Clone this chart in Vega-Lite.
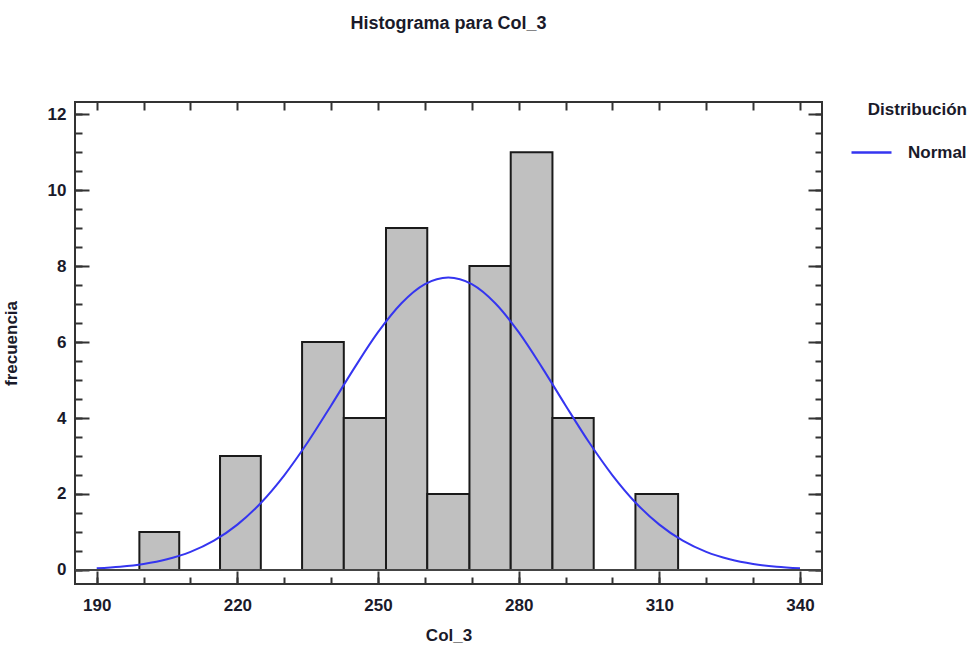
{
  "$schema": "https://vega.github.io/schema/vega-lite/v6.json",
  "width": 747,
  "height": 482,
  "autosize": "none",
  "padding": {"left": 75, "top": 102, "right": 149, "bottom": 72},
  "background": "white",
  "title": {
    "text": "Histograma para Col_3",
    "fontSize": 18,
    "font": "Liberation Sans Narrow, Liberation Sans",
    "fontWeight": "bold",
    "color": "#1a1a2a",
    "anchor": "middle",
    "offset": 68
  },
  "config": {
    "view": {"stroke": "#333333", "strokeWidth": 2},
    "axis": {
      "grid": false,
      "domain": false,
      "tickColor": "#333333",
      "tickWidth": 2,
      "labelFont": "Liberation Sans Narrow, Liberation Sans",
      "labelFontWeight": "bold",
      "labelFontSize": 17,
      "labelColor": "#1a1a2a",
      "titleFont": "Liberation Sans Narrow, Liberation Sans",
      "titleFontWeight": "bold",
      "titleFontSize": 17,
      "titleColor": "#1a1a2a"
    },
    "legend": {
      "titleFont": "Liberation Sans Narrow, Liberation Sans",
      "labelFont": "Liberation Sans Narrow, Liberation Sans"
    }
  },
  "datasets": {
    "bins": [
      {"start": 199.1, "end": 207.6, "count": 1},
      {"start": 216.3, "end": 225.0, "count": 3},
      {"start": 233.8, "end": 242.7, "count": 6},
      {"start": 242.7, "end": 251.7, "count": 4},
      {"start": 251.7, "end": 260.5, "count": 9},
      {"start": 260.5, "end": 269.5, "count": 2},
      {"start": 269.5, "end": 278.3, "count": 8},
      {"start": 278.3, "end": 287.2, "count": 11},
      {"start": 287.2, "end": 296.0, "count": 4},
      {"start": 304.9, "end": 314.0, "count": 2}
    ],
    "curve": [
      {"x": 190, "y": 0.043}, {"x": 195, "y": 0.084}, {"x": 200, "y": 0.157},
      {"x": 205, "y": 0.28}, {"x": 210, "y": 0.475}, {"x": 215, "y": 0.77},
      {"x": 220, "y": 1.193}, {"x": 225, "y": 1.764}, {"x": 230, "y": 2.492},
      {"x": 235, "y": 3.361}, {"x": 240, "y": 4.331}, {"x": 245, "y": 5.327},
      {"x": 250, "y": 6.259}, {"x": 255, "y": 7.022}, {"x": 260, "y": 7.525},
      {"x": 265, "y": 7.7}, {"x": 270, "y": 7.525}, {"x": 275, "y": 7.022},
      {"x": 280, "y": 6.259}, {"x": 285, "y": 5.327}, {"x": 290, "y": 4.331},
      {"x": 295, "y": 3.361}, {"x": 300, "y": 2.492}, {"x": 305, "y": 1.764},
      {"x": 310, "y": 1.193}, {"x": 315, "y": 0.77}, {"x": 320, "y": 0.475},
      {"x": 325, "y": 0.28}, {"x": 330, "y": 0.157}, {"x": 335, "y": 0.084},
      {"x": 340, "y": 0.043}
    ]
  },
  "resolve": {
    "scale": {"x": "shared", "y": "shared"},
    "axis": {"x": "independent", "y": "independent"}
  },
  "layer": [
    {
      "data": {"name": "bins"},
      "mark": {"type": "rect", "fill": "#c0c0c0", "stroke": "#1a1a1a", "strokeWidth": 2},
      "encoding": {
        "x": {
          "field": "start", "type": "quantitative",
          "scale": {"domain": [185.37, 344.69], "nice": false, "zero": false},
          "axis": {
            "orient": "bottom", "title": "Col_3",
            "values": [190, 220, 250, 280, 310, 340],
            "tickSize": -13, "labelPadding": 26, "titlePadding": 14,
            "format": "d"
          }
        },
        "x2": {"field": "end"},
        "y": {
          "field": "count", "type": "quantitative",
          "scale": {"domain": [-0.37, 12.32], "nice": false, "zero": false},
          "axis": {
            "orient": "left", "title": "frecuencia",
            "values": [0, 2, 4, 6, 8, 10, 12],
            "tickSize": -14, "labelPadding": 23, "titlePadding": 27,
            "format": "d"
          }
        },
        "y2": {"datum": 0}
      }
    },
    {
      "data": {"name": "curve"},
      "mark": {"type": "line", "strokeWidth": 2, "interpolate": "monotone"},
      "encoding": {
        "x": {
          "field": "x", "type": "quantitative",
          "axis": {
            "orient": "bottom", "title": null, "labels": false,
            "values": [190, 200, 210, 220, 230, 240, 250, 260, 270, 280, 290, 300, 310, 320, 330, 340],
            "tickSize": -7
          }
        },
        "y": {
          "field": "y", "type": "quantitative",
          "axis": {
            "orient": "left", "title": null, "labels": false,
            "values": [0, 0.5, 1, 1.5, 2, 2.5, 3, 3.5, 4, 4.5, 5, 5.5, 6, 6.5, 7, 7.5, 8, 8.5, 9, 9.5, 10, 10.5, 11, 11.5, 12],
            "tickSize": -7
          }
        },
        "color": {
          "datum": "Normal", "type": "nominal",
          "scale": {"range": ["#3535f0"]},
          "legend": {
            "title": "Distribución",
            "orient": "none",
            "legendX": 775,
            "legendY": 0,
            "titleAnchor": "end",
            "titleFontSize": 17,
            "titleFontWeight": "bold",
            "titleColor": "#1a1a2a",
            "titlePadding": 12,
            "labelFontSize": 17,
            "labelFontWeight": "bold",
            "labelColor": "#1a1a2a",
            "labelOffset": 15,
            "symbolType": "stroke",
            "symbolSize": 1600,
            "symbolStrokeWidth": 2.5
          }
        }
      }
    },
    {
      "data": {"name": "bins"},
      "mark": {"type": "point", "opacity": 0},
      "encoding": {
        "x": {
          "field": "start", "type": "quantitative",
          "axis": {
            "orient": "top", "title": null, "labels": false,
            "values": [190, 200, 210, 220, 230, 240, 250, 260, 270, 280, 290, 300, 310, 320, 330, 340],
            "tickSize": -8
          }
        },
        "y": {
          "field": "count", "type": "quantitative",
          "axis": {
            "orient": "right", "title": null, "labels": false,
            "values": [0, 2, 4, 6, 8, 10, 12],
            "tickSize": -14
          }
        }
      }
    },
    {
      "data": {"name": "bins"},
      "mark": {"type": "point", "opacity": 0},
      "encoding": {
        "y": {
          "field": "count", "type": "quantitative",
          "axis": {
            "orient": "right", "title": null, "labels": false,
            "values": [0, 0.5, 1, 1.5, 2, 2.5, 3, 3.5, 4, 4.5, 5, 5.5, 6, 6.5, 7, 7.5, 8, 8.5, 9, 9.5, 10, 10.5, 11, 11.5, 12],
            "tickSize": -7
          }
        }
      }
    },
    {
      "data": {"values": [{"v": 0}]},
      "mark": {"type": "rule", "color": "#444444", "strokeWidth": 2},
      "encoding": {"y": {"field": "v", "type": "quantitative", "axis": null}}
    }
  ]
}
